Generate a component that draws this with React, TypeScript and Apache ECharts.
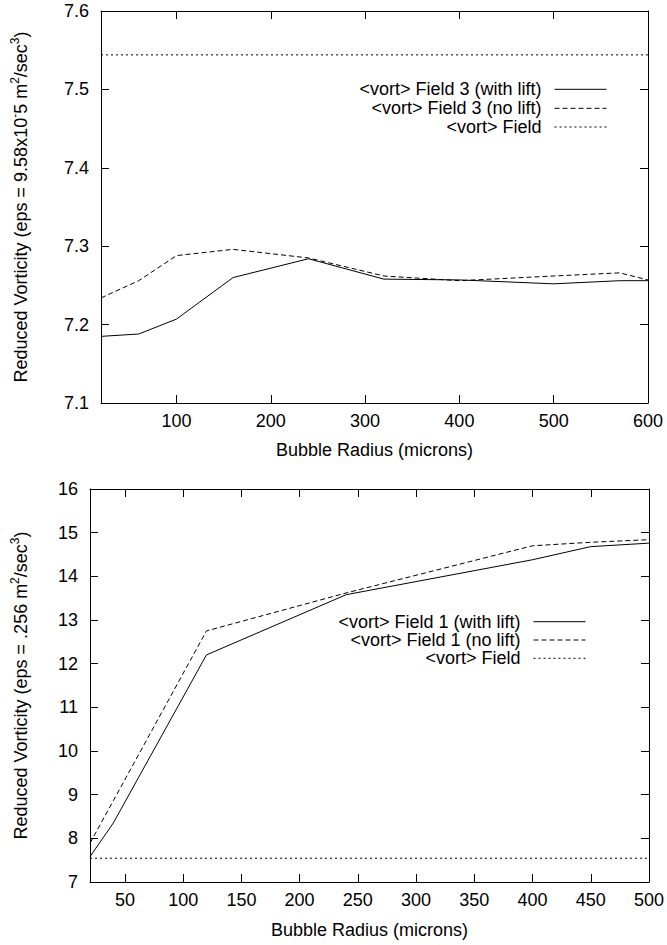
import React, { useEffect, useRef } from "react";
import * as echarts from "echarts";

// ---------- data ----------
const topRadius = [20, 60, 100, 160, 240, 320, 400, 500, 570, 600];
const topWithLift = [7.185, 7.188, 7.207, 7.26, 7.284, 7.258, 7.257, 7.252, 7.256, 7.256];
const topNoLift = [7.234, 7.256, 7.288, 7.296, 7.285, 7.262, 7.256, 7.262, 7.266, 7.257];
const topFieldVort = 7.544;
const topXTicks = [100, 200, 300, 400, 500, 600];

const bottomRadius = [20, 40, 120, 240, 400, 450, 500];
const bottomWithLift = [7.58, 8.35, 12.2, 13.58, 14.38, 14.68, 14.76];
const bottomNoLift = [7.89, 8.86, 12.75, 13.62, 14.7, 14.78, 14.84];
const bottomFieldVort = 7.544;
const bottomXTicks = [50, 100, 150, 200, 250, 300, 350, 400, 450, 500];

const topNames = ["<vort> Field 3 (with lift)", "<vort> Field 3 (no lift)", "<vort> Field"];
const bottomNames = ["<vort> Field 1 (with lift)", "<vort> Field 1 (no lift)", "<vort> Field"];

const FONT = "'Liberation Sans', Arial, Helvetica, sans-serif";
const FS = 18;

export default function App() {
  const ref = useRef<HTMLDivElement>(null);
  useEffect(() => {
    document.body.style.margin = "0";
    const chart = echarts.init(ref.current!, null, { renderer: "svg" });
    const pair = (xs: number[], ys: number[]) => xs.map((x, i) => [x, ys[i]]);
    const axisLine = { show: true, onZero: false, lineStyle: { color: "#000", width: 1 } };
    const tickStyle = { inside: true, length: 8, lineStyle: { color: "#000", width: 1 } };
    const labelStyle = { color: "#000", fontSize: FS, fontFamily: FONT };

    const xPair = (grid: number, min: number, max: number, ticks: number[], gap: number) => [
      {
        type: "value", gridIndex: grid, min, max, position: "bottom",
        axisLine, axisTick: { ...tickStyle, customValues: ticks },
        axisLabel: { ...labelStyle, margin: 9, customValues: ticks },
        splitLine: { show: false },
        name: "Bubble Radius (microns)", nameLocation: "middle", nameGap: gap,
        nameTextStyle: { ...labelStyle },
      },
      {
        type: "value", gridIndex: grid, min, max, position: "top",
        axisLine, axisTick: { ...tickStyle, customValues: ticks },
        axisLabel: { show: false }, splitLine: { show: false },
      },
    ];

    const richName = {
      n: { fontSize: FS, fontFamily: FONT, color: "#000", lineHeight: 24 },
      s: { fontSize: 12, fontFamily: FONT, color: "#000", lineHeight: 12, verticalAlign: "top" },
    };

    const yPair = (grid: number, min: number, max: number, interval: number, dec: number, name: string, gap: number) => [
      {
        type: "value", gridIndex: grid, min, max, interval, position: "left",
        axisLine, axisTick: tickStyle,
        axisLabel: { ...labelStyle, margin: 12, formatter: (v: number) => v.toFixed(dec) },
        splitLine: { show: false },
        name, nameLocation: "middle", nameRotate: 90, nameGap: gap,
        nameTextStyle: { rich: richName },
      },
      {
        type: "value", gridIndex: grid, min, max, interval, position: "right",
        axisLine, axisTick: tickStyle, axisLabel: { show: false }, splitLine: { show: false },
      },
    ];

    const styles = [
      { type: "solid" as any },
      { type: [5, 3] as any },
      { type: [2, 3] as any },
    ];

    const mkSeries = (name: string, data: number[][], si: number, axis: number) => ({
      type: "line", name, data, symbol: "none", showSymbol: false,
      xAxisIndex: axis, yAxisIndex: axis,
      lineStyle: { color: "#000", width: 1, type: styles[si].type },
      itemStyle: { color: "#000" },
      emphasis: { disabled: true },
      silent: true,
    });

    const legendTops = (centers: number[]) => centers.map((c) => c - 9);
    const mkLegends = (names: string[], tops: number[], right: number) =>
      names.map((n, i) => ({
        data: [n], top: tops[i], right, orient: "horizontal", align: "right",
        padding: 0, itemWidth: 52, itemHeight: 12, selectedMode: false,
        itemStyle: { color: "rgba(0,0,0,0)", borderWidth: 0, opacity: 0 },
        lineStyle: { width: 1 },
        formatter: (name: string) => `{a|${name}}`,
        textStyle: { rich: { a: { fontSize: FS, fontFamily: FONT, color: "#000", padding: [0, 8, 0, 0] } } },
      }));

    const topLegend = mkLegends(topNames, legendTops([89.3, 108.3, 127]), 60);
    const bottomLegend = mkLegends(bottomNames, legendTops([621.7, 640, 658.3]), 81);

    const topXMin = topRadius[0], topXMax = topRadius[topRadius.length - 1];
    const botXMin = bottomRadius[0], botXMax = bottomRadius[bottomRadius.length - 1];

    chart.setOption({
      animation: false,
      backgroundColor: "#fff",
      grid: [
        { left: 101, top: 11, width: 547, height: 392 },
        { left: 90, top: 489, width: 559, height: 393 },
      ],
      legend: [...topLegend, ...bottomLegend],
      xAxis: [
        ...xPair(0, topXMin, topXMax, topXTicks, 38),
        ...xPair(1, botXMin, botXMax, bottomXTicks, 39),
      ],
      yAxis: [
        ...yPair(0, 7.1, 7.6, 0.1, 1,
          "{n|Reduced Vorticity (eps = 9.58x10}{s|-}{n|5 m}{s|2}{n|/sec}{s|3}{n|)}", 68),
        ...yPair(1, 7, 16, 1, 0,
          "{n|Reduced Vorticity (eps = .256 m}{s|2}{n|/sec}{s|3}{n|)}", 57),
      ],
      series: [
        mkSeries(topNames[0], pair(topRadius, topWithLift), 0, 0),
        mkSeries(topNames[1], pair(topRadius, topNoLift), 1, 0),
        mkSeries(topNames[2], [[topXMin, topFieldVort], [topXMax, topFieldVort]], 2, 0),
        mkSeries(bottomNames[0], pair(bottomRadius, bottomWithLift), 0, 2),
        mkSeries(bottomNames[1], pair(bottomRadius, bottomNoLift), 1, 2),
        mkSeries(bottomNames[2], [[botXMin, bottomFieldVort], [botXMax, bottomFieldVort]], 2, 2),
      ],
    });
    return () => chart.dispose();
  }, []);
  return <div ref={ref} style={{ width: 667, height: 945 }} />;
}
